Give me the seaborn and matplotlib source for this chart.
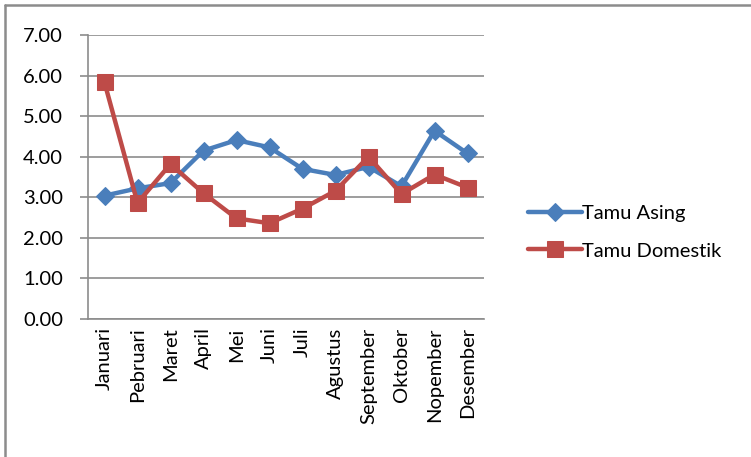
import numpy as np
import pandas as pd
import matplotlib
matplotlib.use("Agg")
import matplotlib.pyplot as plt
import seaborn as sns
from matplotlib.lines import Line2D

# --- Data ---
bulan = ['Januari', 'Pebruari', 'Maret', 'April', 'Mei', 'Juni', 'Juli',
         'Agustus', 'September', 'Oktober', 'Nopember', 'Desember']
tamu_asing = [3.04, 3.22, 3.35, 4.15, 4.41, 4.23, 3.70, 3.55, 3.75, 3.27, 4.64, 4.08]
tamu_domestik = [5.83, 2.86, 3.82, 3.10, 2.48, 2.36, 2.72, 3.16, 4.00, 3.08, 3.56, 3.24]
y_ticks = [0, 1, 2, 3, 4, 5, 6, 7]

df = pd.DataFrame({'Bulan': bulan * 2,
                   'Nilai': tamu_asing + tamu_domestik,
                   'Seri': ['Tamu Asing'] * 12 + ['Tamu Domestik'] * 12})
df['pos'] = list(range(12)) * 2

sns.set_theme(style='white')
plt.rcParams['font.family'] = ['Lato', 'DejaVu Sans']
FS = 14.5

fig = plt.figure(figsize=(7.51, 4.57), dpi=100)
ax = fig.add_axes([88 / 751, 1 - 319 / 457, (484 - 88) / 751, (319 - 35) / 457])

colors = {'Tamu Asing': '#4A7EBB', 'Tamu Domestik': '#BE4B48'}
markers = {'Tamu Asing': 'D', 'Tamu Domestik': 's'}
sizes = {'Tamu Asing': 9, 'Tamu Domestik': 12}

for seri in ['Tamu Asing', 'Tamu Domestik']:
    sub = df[df['Seri'] == seri]
    sns.lineplot(data=sub, x='pos', y='Nilai', ax=ax, color=colors[seri],
                 marker=markers[seri], markersize=sizes[seri], linewidth=3.2,
                 markeredgecolor=colors[seri], label=seri, sort=False)

ax.set_xlim(-0.5, 11.5)
ax.set_ylim(0, 7)
ax.set_yticks(y_ticks)
ax.set_yticklabels([f'{v:.2f}' for v in y_ticks], fontsize=FS, color='black')
ax.yaxis.grid(True, color='#8C8C8C', linewidth=1.2)
ax.set_axisbelow(True)

# category labels at centres, tick marks at boundaries
ax.set_xticks(range(12))
ax.set_xticklabels(bulan, rotation=90, fontsize=FS, color='black')
ax.set_xticks(np.arange(-0.5, 12, 1), minor=True)
ax.tick_params(axis='x', which='major', length=0, pad=6)
ax.tick_params(axis='x', which='minor', length=6, color='#8C8C8C', width=1.2, direction='out')
ax.tick_params(axis='y', length=6, color='#8C8C8C', width=1.2, direction='out', pad=12, left=True)
ax.set_xlabel('')
ax.set_ylabel('')

for s in ['top', 'right']:
    ax.spines[s].set_visible(False)
for s in ['left', 'bottom']:
    ax.spines[s].set_color('#8C8C8C')
    ax.spines[s].set_linewidth(1.2)

leg = ax.legend(loc='center left', bbox_to_anchor=(1.065, 0.305), frameon=False,
                fontsize=FS, handlelength=2.7, handletextpad=0.0, labelspacing=1.0)
for t in leg.get_texts():
    t.set_color('black')

# outer chart frame (left and top edges)
fig.add_artist(Line2D([5 / 751, 5 / 751], [0, 1 - 5 / 457], transform=fig.transFigure,
                      color='#8C8C8C', linewidth=1.8))
fig.add_artist(Line2D([5 / 751, 1], [1 - 5 / 457, 1 - 5 / 457], transform=fig.transFigure,
                      color='#8C8C8C', linewidth=1.8))

fig.savefig('out.png', dpi=100)
